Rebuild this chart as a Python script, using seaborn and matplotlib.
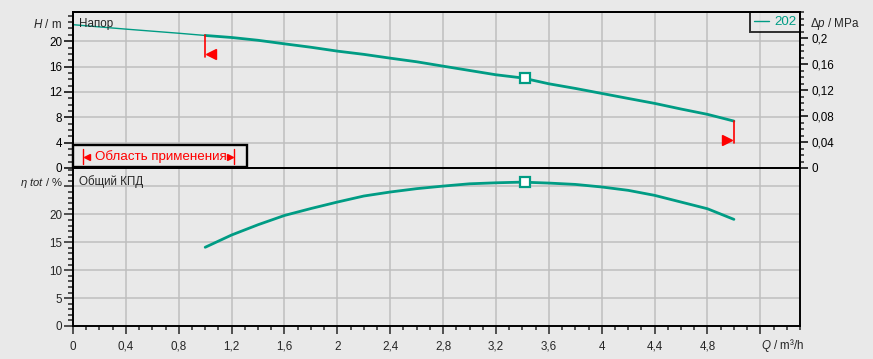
import matplotlib
matplotlib.use("Agg")
import matplotlib.pyplot as plt
import seaborn as sns
import pandas as pd
from matplotlib.ticker import FixedLocator, MultipleLocator, FixedFormatter
from matplotlib.lines import Line2D
from matplotlib.patches import Rectangle

# ---------------- data ----------------
Q_head = [0.0, 0.4, 0.8, 1.0, 1.2, 1.4, 1.6, 1.8, 2.0, 2.2, 2.4, 2.6, 2.8, 3.0, 3.2, 3.4,
          3.6, 3.8, 4.0, 4.2, 4.4, 4.6, 4.8, 5.0]
H_head = [22.6, 21.9, 21.25, 20.9, 20.58, 20.14, 19.58, 19.04, 18.43, 17.92, 17.32, 16.75,
          16.06, 15.38, 14.7, 14.2, 13.28, 12.55, 11.76, 10.97, 10.19, 9.3, 8.46, 7.4]
Q_eff = [1.0, 1.2, 1.4, 1.6, 1.8, 2.0, 2.2, 2.4, 2.6, 2.8, 3.0, 3.2, 3.4, 3.6, 3.8,
         4.0, 4.2, 4.4, 4.6, 4.8, 5.0]
eta_eff = [14.1, 16.3, 18.14, 19.8, 21.04, 22.2, 23.28, 24.0, 24.6, 25.06, 25.47, 25.65,
           25.77, 25.6, 25.36, 24.9, 24.3, 23.4, 22.2, 21.0, 19.1]
Q_op, H_op, eta_op = 3.42, 14.14, 25.8
Q_min, Q_max = 1.0, 5.0
series_label = "202"

x_ticks = [0, 0.4, 0.8, 1.2, 1.6, 2.0, 2.4, 2.8, 3.2, 3.6, 4.0, 4.4, 4.8, 5.2]
x_tick_labels = ["0", "0,4", "0,8", "1,2", "1,6", "2", "2,4", "2,8", "3,2", "3,6", "4", "4,4", "4,8", ""]
h_ticks = [0, 4, 8, 12, 16, 20]
h_tick_labels = ["0", "4", "8", "12", "16", "20"]
dp_ticks = [0, 0.04, 0.08, 0.12, 0.16, 0.2]
dp_tick_labels = ["0", "0,04", "0,08", "0,12", "0,16", "0,2"]
eta_ticks = [0, 5, 10, 15, 20, 25]
eta_tick_labels = ["0", "5", "10", "15", "20", ""]

# ---------------- style ----------------
BG = "#e9e9e9"
GRID = "#bebebe"
TEAL = "#009c84"
RED = "#ff0000"

sns.set_theme(style="white", rc={"axes.facecolor": BG, "figure.facecolor": BG})
plt.rcParams["font.family"] = ["Liberation Sans", "DejaVu Sans"]
plt.rcParams["mathtext.fontset"] = "custom"
plt.rcParams["mathtext.it"] = "Liberation Sans:italic"
plt.rcParams["mathtext.rm"] = "Liberation Sans"

W, Hh = 873, 359
fig = plt.figure(figsize=(W / 100, Hh / 100), dpi=100)
fig.patch.set_facecolor(BG)

L, R = 73, 800
T1, B1 = 12, 168
T2, B2 = 168, 326
ax1 = fig.add_axes([L / W, 1 - B1 / Hh, (R - L) / W, (B1 - T1) / Hh])
ax2 = fig.add_axes([L / W, 1 - B2 / Hh, (R - L) / W, (B2 - T2) / Hh])
ax1r = ax1.twinx()

XMAX = 5.5
for ax in (ax1, ax2):
    ax.set_facecolor(BG)
    ax.set_xlim(0, XMAX)
    ax.set_axisbelow(True)
    ax.xaxis.set_major_locator(FixedLocator(x_ticks))
    ax.xaxis.set_minor_locator(MultipleLocator(0.1))
    ax.grid(True, which="major", color=GRID, lw=1.1)
    ax.grid(False, which="minor")
    for s in ax.spines.values():
        s.set_color("black")
        s.set_linewidth(1.4)

ax1.set_ylim(0, 24.6)
ax1r.set_ylim(0, 0.24)
ax2.set_ylim(0, 28.3)

# --------------- curves ---------------
df_head = pd.DataFrame({"Q": Q_head, "H": H_head})
df_thin = df_head[df_head["Q"] <= Q_min]
df_thick = df_head[df_head["Q"] >= Q_min]
df_eff = pd.DataFrame({"Q": Q_eff, "eta": eta_eff})

sns.lineplot(data=df_thin, x="Q", y="H", ax=ax1, color=TEAL, lw=1.0, sort=False, zorder=3)
sns.lineplot(data=df_thick, x="Q", y="H", ax=ax1, color=TEAL, lw=2.0, sort=False, zorder=3)
sns.lineplot(data=df_eff, x="Q", y="eta", ax=ax2, color=TEAL, lw=2.0, sort=False, zorder=3)

ax1.plot([Q_op], [H_op], marker="s", ms=6.5, mfc="white", mec=TEAL, mew=1.6, zorder=5)
ax2.plot([Q_op], [eta_op], marker="s", ms=6.5, mfc="white", mec=TEAL, mew=1.6, zorder=5)

# application limit markers
H_at_min = H_head[Q_head.index(Q_min)]
H_at_max = H_head[Q_head.index(Q_max)]
drop, raise_ = 3.45, 0.5
ax1.plot([Q_min, Q_min], [H_at_min, H_at_min - drop], color=RED, lw=1.2, zorder=4)
ax1.plot([Q_min + 0.046], [H_at_min - drop + raise_], marker="<", ms=6.7, color=RED, mec=RED, zorder=4)
ax1.plot([Q_max, Q_max], [H_at_max, H_at_max - drop], color=RED, lw=1.2, zorder=4)
ax1.plot([Q_max - 0.05], [H_at_max - drop + raise_], marker=">", ms=6.7, color=RED, mec=RED, zorder=4)

# --------------- ticks ---------------
ax1.yaxis.set_major_locator(FixedLocator(h_ticks))
ax1.yaxis.set_major_formatter(FixedFormatter(h_tick_labels))
ax1.yaxis.set_minor_locator(MultipleLocator(1))
ax1.tick_params(axis="y", which="major", direction="out", length=6.5, width=1.1, labelsize=8.4, pad=1.5, colors="black")
ax1.tick_params(axis="y", which="minor", direction="out", length=3.6, width=1.1)
ax1.tick_params(axis="x", which="both", length=0, labelbottom=False)

ax1r.yaxis.set_major_locator(FixedLocator(dp_ticks))
ax1r.yaxis.set_major_formatter(FixedFormatter(dp_tick_labels))
ax1r.yaxis.set_minor_locator(MultipleLocator(0.01))
ax1r.tick_params(axis="y", which="major", direction="out", length=6, width=1.1, labelsize=8.4, pad=2, colors="black")
ax1r.tick_params(axis="y", which="minor", direction="out", length=3, width=1.1)
ax1r.grid(False)
for s in ax1r.spines.values():
    s.set_color("black")
    s.set_linewidth(1.4)

ax2.xaxis.set_major_formatter(FixedFormatter(x_tick_labels))
ax2.yaxis.set_major_locator(FixedLocator(eta_ticks))
ax2.yaxis.set_major_formatter(FixedFormatter(eta_tick_labels))
ax2.yaxis.set_minor_locator(MultipleLocator(1))
ax2.tick_params(axis="y", which="major", direction="out", length=6.5, width=1.1, labelsize=8.4, pad=1.5, left=True, right=False)
ax2.tick_params(axis="y", which="minor", direction="out", length=3.6, width=1.1, left=True, right=False)
ax2.tick_params(axis="x", which="major", direction="out", length=6, width=1.1, labelsize=8.4, pad=4.5, bottom=True)
ax2.tick_params(axis="x", which="minor", direction="out", length=3, width=1.1, bottom=True)

for ax in (ax1, ax2):
    ax.set_xlabel("")
    ax.set_ylabel("")
ax1r.set_ylabel("")

# --------------- texts ---------------
def fx(x):
    return x / W

def fy(y):
    return 1 - y / Hh

fs = 8.4
fig.text(fx(62), fy(24.3), r"$\mathit{H}$ / m", ha="right", va="center", fontsize=fs)
fig.text(fx(79), fy(24.3), "Напор", ha="left", va="center", fontsize=fs)
fig.text(fx(810.5), fy(24.3), r"$\mathit{Δp}$ / MPa", ha="left", va="center", fontsize=fs)
fig.text(fx(63), fy(182.5), r"$\mathit{η\ tot}$ / %", ha="right", va="center", fontsize=8.1)
fig.text(fx(79), fy(181.7), "Общий КПД", ha="left", va="center", fontsize=fs)
fig.text(fx(761), fy(345), r"$\mathit{Q}$ / m³/h", ha="left", va="center", fontsize=fs)

# application range box
def axx(px):
    return (px - L) / (R - L)

def axy(py):
    return (B1 - py) / (B1 - T1)

box = Rectangle((axx(73.3), axy(167.3)), axx(246.7) - axx(73.3), axy(145) - axy(167.3),
                transform=ax1.transAxes, facecolor=BG, edgecolor="black", lw=1.7, zorder=6, clip_on=False)
ax1.add_patch(box)
ax1.text(axx(95), axy(156.7), "Область применения", transform=ax1.transAxes,
         color=RED, fontsize=9.6, ha="left", va="center", zorder=7)
ax1.plot([axx(82.7), axx(82.7)], [axy(148.5), axy(163.5)], transform=ax1.transAxes, color=RED, lw=1.0, zorder=7, clip_on=False)
ax1.plot([axx(87)], [axy(156.7)], transform=ax1.transAxes, marker="<", ms=4.5, color=RED, zorder=7, clip_on=False)
ax1.plot([axx(234.3), axx(234.3)], [axy(148.5), axy(163.5)], transform=ax1.transAxes, color=RED, lw=1.0, zorder=7, clip_on=False)
ax1.plot([axx(229.5)], [axy(156.7)], transform=ax1.transAxes, marker=">", ms=4.5, color=RED, zorder=7, clip_on=False)

# legend
handle = Line2D([], [], color=TEAL, lw=1.0)
leg = ax1.legend([handle], [series_label], loc="upper right", bbox_to_anchor=(1.0, 1.0),
                 borderaxespad=0, frameon=True, fancybox=False, fontsize=9.6,
                 handlelength=1.1, handletextpad=0.4, borderpad=0.3, labelcolor=TEAL)
leg.get_frame().set_edgecolor("black")
leg.get_frame().set_linewidth(1.4)
leg.get_frame().set_facecolor(BG)
leg.set_zorder(8)

fig.savefig("out.png", dpi=100, facecolor=BG)
